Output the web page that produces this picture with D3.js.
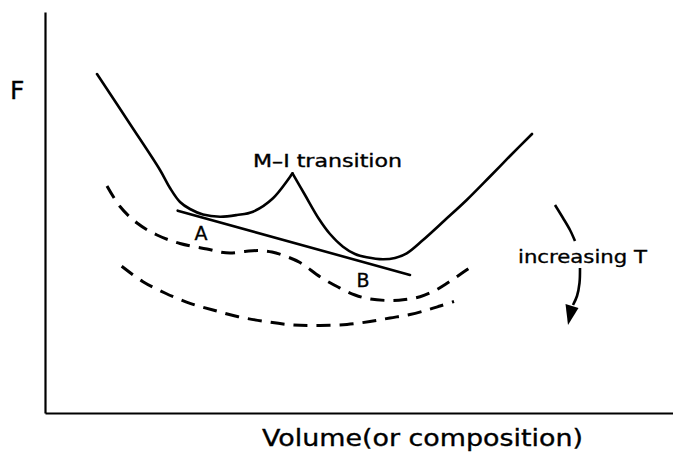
<!DOCTYPE html>
<html>
<head>
<meta charset="utf-8">
<script src="https://cdn.jsdelivr.net/npm/d3@7"></script>
<style>
  html, body { margin: 0; padding: 0; background: #fff; }
  svg { display: block; }
  text { font-family: "DejaVu Sans", sans-serif; fill: #000; stroke: #000; stroke-width: 0.35px; }
</style>
</head>
<body>
<svg id="chart" width="673" height="454"></svg>
<script>
// Free energy F against volume (arbitrary units).
// Solid curve: branch with the metal–insulator cusp, left of the cusp.
const mainLeftVol = [52, 85, 115, 125, 135, 145, 158, 175, 192, 208, 228, 247.5];
const mainLeftF   = [339, 289, 243, 225, 211, 204, 198.5, 196.3, 198, 201.3, 214.7, 239.7];
// Solid curve, right of the cusp.
const mainRightVol = [247.5, 260, 274, 285, 298, 310, 321.7, 338, 350, 361.7, 378, 400, 421.7, 445, 465, 487];
const mainRightF   = [239.7, 218, 194, 179, 166.3, 159, 155.7, 153.7, 155, 159.7, 173, 193, 213, 236.5, 257, 279];
// Common tangent between the two minima A and B.
const tangentVol = [132.7, 365];
const tangentF   = [202.3, 138];
// Higher-temperature curves (dashed).
const warmVol = [62, 75, 92, 112, 135, 162, 175, 185, 200, 213, 227, 240, 255, 275, 293, 310, 325, 345, 360, 375, 390, 402, 415, 425];
const warmF   = [227, 206.5, 190, 178, 169.5, 164, 161, 160, 161.5, 162.5, 161, 157, 150.5, 136.3, 126, 118, 114, 112.5, 113.5, 116.3, 122.5, 129.7, 138.5, 145.5];
const hotVol = [76.7, 98, 121, 145, 168, 193.3, 221.7, 248.3, 275, 302, 325, 345, 365, 382, 395, 409];
const hotF   = [146.7, 131.3, 119.5, 109.7, 103, 96.3, 91.3, 88, 87.5, 88.5, 91.5, 95, 98.5, 103, 107, 111.5];
// "increasing T" arrow, drawn in the same units.
const arrowTopVol = [510, 518, 525, 530];
const arrowTopF   = [208, 195, 183, 172];
const arrowLowVol = [535, 534.5, 532, 528];
const arrowLowF   = [145, 130, 117, 108];
const arrowHeadVol = [520.5, 523, 533.5];
const arrowHeadF   = [109, 88, 105];

const svg = d3.select("#chart");
const x = d3.scaleLinear().domain([0, 628]).range([45, 673]);
const y = d3.scaleLinear().domain([0, 401]).range([413, 12]);

// Axes: plain lines, no ticks.
svg.append("g")
  .attr("transform", `translate(${x(0)},0)`)
  .call(d3.axisLeft(y).tickValues([]).tickSizeOuter(0))
  .call(g => g.select(".domain").attr("stroke", "#000").attr("stroke-width", 2.2));
svg.append("g")
  .attr("transform", `translate(0,${y(0)})`)
  .call(d3.axisBottom(x).tickValues([]).tickSizeOuter(0))
  .call(g => g.select(".domain").attr("stroke", "#000").attr("stroke-width", 2.2));

const zip = (xs, ys) => xs.map((v, i) => [v, ys[i]]);
const smooth = d3.line().x(d => x(d[0])).y(d => y(d[1])).curve(d3.curveCatmullRom.alpha(0.5));
const straight = d3.line().x(d => x(d[0])).y(d => y(d[1]));

const solid = { fill: "none", stroke: "#000", "stroke-width": 2.6, "stroke-linecap": "round", "stroke-linejoin": "miter" };
function draw(path, style) {
  const p = svg.append("path").attr("d", path);
  Object.entries(style).forEach(([k, v]) => p.attr(k, v));
  return p;
}

draw(smooth(zip(mainLeftVol, mainLeftF)), solid);
draw(smooth(zip(mainRightVol, mainRightF)), solid);
draw(straight(zip(tangentVol, tangentF)), solid);

const dashed = { fill: "none", stroke: "#000", "stroke-width": 3, "stroke-dasharray": "14,9" };
draw(smooth(zip(warmVol, warmF)), dashed);
draw(smooth(zip(hotVol, hotF)), dashed);

// Arrow
draw(smooth(zip(arrowTopVol, arrowTopF)), { fill: "none", stroke: "#000", "stroke-width": 2.6 });
draw(smooth(zip(arrowLowVol, arrowLowF)), { fill: "none", stroke: "#000", "stroke-width": 2.6 });
svg.append("path")
  .attr("d", straight(zip(arrowHeadVol, arrowHeadF)) + "Z")
  .attr("fill", "#000");

// Labels
svg.append("text").attr("x", 10).attr("y", 99).attr("font-size", 25).text("F");
svg.append("text").attr("x", x(156)).attr("y", y(173.5)).attr("text-anchor", "middle")
  .attr("font-size", 19).text("A");
svg.append("text").attr("x", x(318)).attr("y", y(126.5)).attr("text-anchor", "middle")
  .attr("font-size", 19).text("B");
svg.append("text").attr("x", x(208)).attr("y", y(246.3)).attr("font-size", 17.5)
  .attr("textLength", 149).attr("lengthAdjust", "spacingAndGlyphs").text("M–I transition");
svg.append("text").attr("x", x(473)).attr("y", y(150.5)).attr("font-size", 18.5)
  .attr("textLength", 129).attr("lengthAdjust", "spacingAndGlyphs").text("increasing T");
svg.append("text").attr("x", 262).attr("y", 446).attr("font-size", 23)
  .attr("textLength", 321).attr("lengthAdjust", "spacingAndGlyphs").text("Volume(or composition)");
</script>
</body>
</html>
